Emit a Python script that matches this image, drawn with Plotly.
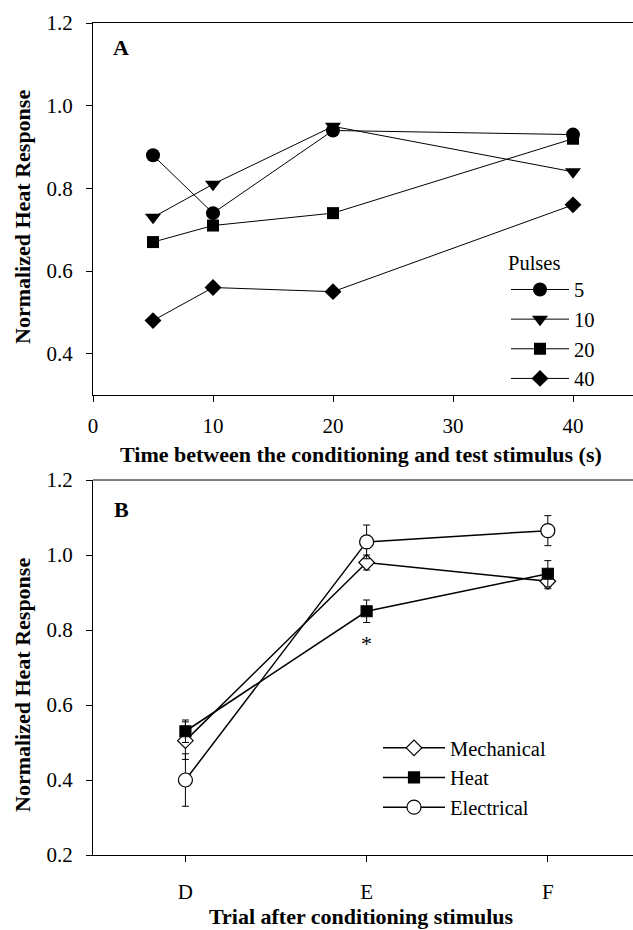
import plotly.graph_objects as go

# ---------------- Data ----------------
# Panel A
time_s = [5, 10, 20, 40]
pulse_labels = ["5", "10", "20", "40"]
pulse_5 = [0.88, 0.74, 0.94, 0.93]
pulse_10 = [0.73, 0.81, 0.95, 0.84]
pulse_20 = [0.67, 0.71, 0.74, 0.92]
pulse_40 = [0.48, 0.56, 0.55, 0.76]
pulse_symbols = ["circle", "triangle-down", "square", "diamond"]
pulse_sizes = [14, 14, 12, 13]

# Panel B
trials = ["D", "E", "F"]
trial_pos = [1, 2, 3]
mech = [0.505, 0.98, 0.93]
mech_err = [0.05, 0.02, 0.02]
heat = [0.53, 0.85, 0.95]
heat_err = [0.03, 0.03, 0.035]
elec = [0.40, 1.035, 1.065]
elec_err = [0.07, 0.045, 0.04]
star_trial = 2
star_y = 0.765

FONT = "Liberation Serif, Times New Roman, serif"

fig = go.Figure()

series_a = [pulse_5, pulse_10, pulse_20, pulse_40]
for lab, vals, sym, sz in zip(pulse_labels, series_a, pulse_symbols, pulse_sizes):
    fig.add_trace(go.Scatter(
        x=time_s, y=vals, mode="lines+markers", name=lab,
        line=dict(color="black", width=1),
        marker=dict(symbol=sym, size=sz, color="black"),
        xaxis="x", yaxis="y", legend="legend",
    ))

series_b = [
    ("Mechanical", mech, mech_err, "diamond", 12, "white"),
    ("Heat", heat, heat_err, "square", 11, "black"),
    ("Electrical", elec, elec_err, "circle", 14, "white"),
]
for name, vals, err, sym, sz, fill in series_b:
    fig.add_trace(go.Scatter(
        x=trial_pos, y=vals, mode="lines+markers", name=name,
        error_y=dict(type="data", array=err, visible=True, color="black",
                     thickness=1, width=3.5),
        line=dict(color="black", width=1.5),
        marker=dict(symbol=sym, size=sz, color=fill,
                    line=dict(color="black", width=1.2)),
        xaxis="x2", yaxis="y2", legend="legend2",
    ))

W, H = 633, 930
xa_dom = [93 / W, 1.0]
ya_dom = [1 - 395 / H, 1 - 23 / H]
yb_dom = [1 - 855 / H, 1 - 480 / H]

axis_common = dict(
    showline=True, linecolor="black", linewidth=1,
    ticks="outside", ticklen=6, tickcolor="black", tickwidth=1,
    showgrid=False, zeroline=False, automargin=False,
    tickfont=dict(family=FONT, size=21, color="black"),
)

LEG_FONT = dict(family=FONT, size=20.5, color="black")

fig.update_layout(
    width=W, height=H,
    margin=dict(l=0, r=0, t=0, b=0, pad=0, autoexpand=False),
    paper_bgcolor="white", plot_bgcolor="white",
    font=dict(family=FONT, color="black"),
    xaxis=dict(domain=xa_dom, range=[0, 45], tickvals=[0, 10, 20, 30, 40],
               anchor="y", mirror=True, ticklabelstandoff=6, **axis_common),
    yaxis=dict(domain=ya_dom, range=[0.3, 1.2],
               tickvals=[0.4, 0.6, 0.8, 1.0, 1.2], tickformat=".1f",
               anchor="x", mirror=True, ticklabelstandoff=9, **axis_common),
    xaxis2=dict(domain=xa_dom, range=[0.49, 3.47], tickvals=trial_pos,
                ticktext=trials, anchor="y2", ticklabelstandoff=12, **axis_common),
    yaxis2=dict(domain=yb_dom, range=[0.2, 1.2],
                tickvals=[0.2, 0.4, 0.6, 0.8, 1.0, 1.2], tickformat=".1f",
                anchor="x2", ticklabelstandoff=9, **axis_common),
    legend=dict(
        x=506 / W, y=1 - 243 / H, xanchor="left", yanchor="top",
        bgcolor="rgba(0,0,0,0)",
        font=LEG_FONT,
        title=dict(text="Pulses", font=LEG_FONT),
        tracegroupgap=0, itemwidth=58,
    ),
    legend2=dict(
        x=378 / W, y=1 - 728 / H, xanchor="left", yanchor="top",
        bgcolor="rgba(0,0,0,0)",
        font=LEG_FONT,
        tracegroupgap=0, itemwidth=62,
    ),
    showlegend=True,
)

# Top border line for panel B
fig.add_shape(type="line", xref="x2 domain", yref="y2 domain",
              x0=0, x1=1, y0=1, y1=1, line=dict(color="black", width=1))

title_font = dict(family=FONT, size=22, color="black")
def ann(text, x, y, font, **kw):
    fig.add_annotation(text=text, xref="paper", yref="paper", x=x / W, y=1 - y / H,
                       xanchor="center", yanchor="middle", showarrow=False,
                       font=font, **kw)

ann("<b>A</b>", 121, 47, dict(family=FONT, size=22, color="black"))
ann("<b>B</b>", 121, 510, dict(family=FONT, size=22, color="black"))
fig.add_annotation(text="*", x=star_trial, y=star_y, xref="x2", yref="y2",
                   xanchor="center", yanchor="middle",
                   showarrow=False, font=dict(family=FONT, size=22, color="black"))

ann("<b>Time between the conditioning and test stimulus (s)</b>", 361, 454, title_font)
ann("<b>Trial after conditioning stimulus</b>", 361, 916, title_font)
ann("<b>Normalized Heat Response</b>", 22, 217, title_font, textangle=-90)
ann("<b>Normalized Heat Response</b>", 22, 685, title_font, textangle=-90)

fig.write_html("out.html")
